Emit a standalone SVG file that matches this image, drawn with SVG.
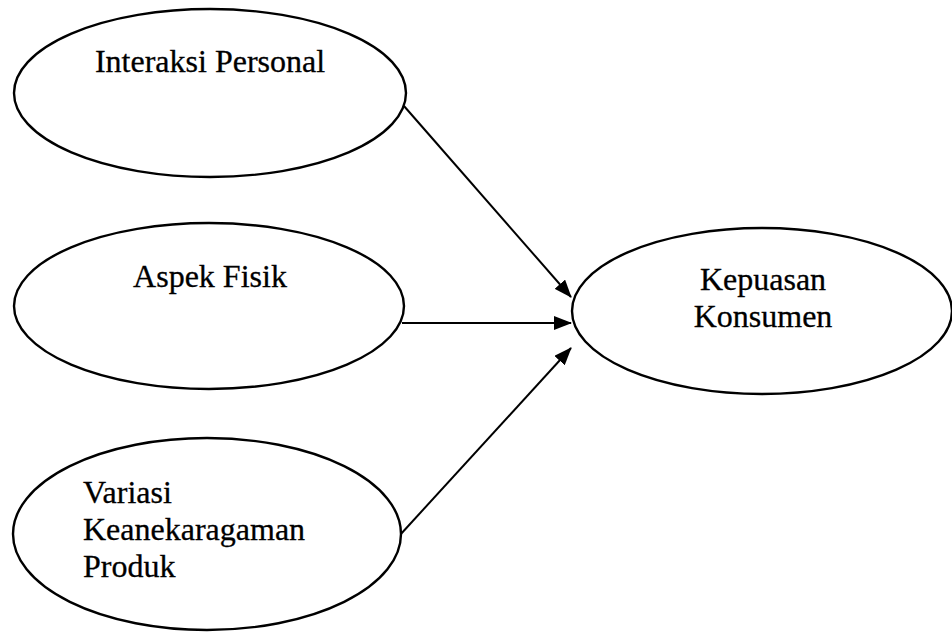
<svg xmlns="http://www.w3.org/2000/svg" width="952" height="633" viewBox="0 0 952 633">
<style>
.node ellipse{fill:#fff;stroke:#000;stroke-width:2.4}
.node text{font-family:"Liberation Serif","Times New Roman",serif;font-size:32px;fill:#000;stroke:#000;stroke-width:0.3}
.conn line{stroke:#000;stroke-width:2}
</style>
<defs>
<marker id="ah" markerUnits="userSpaceOnUse" markerWidth="18" markerHeight="14" refX="17" refY="7" orient="auto">
<path d="M0,0 L18,7 L0,14 Z" fill="#000"/>
</marker>
</defs>
<rect width="952" height="633" fill="#fff"/>
<g class="conn">
<line x1="404" y1="106" x2="571" y2="297" marker-end="url(#ah)"/>
<line x1="402" y1="323" x2="571" y2="323" marker-end="url(#ah)"/>
<line x1="400" y1="535" x2="571" y2="348" marker-end="url(#ah)"/>
</g>
<g class="node" id="interaksi">
<ellipse cx="210" cy="93" rx="196" ry="84"/>
<text x="210" y="72" text-anchor="middle">Interaksi Personal</text>
</g>
<g class="node" id="aspek">
<ellipse cx="209" cy="306" rx="195" ry="83"/>
<text x="210" y="287" text-anchor="middle">Aspek Fisik</text>
</g>
<g class="node" id="variasi">
<ellipse cx="207" cy="534" rx="194" ry="96"/>
<text x="83" y="503">Variasi</text>
<text x="83" y="540">Keanekaragaman</text>
<text x="83" y="577">Produk</text>
</g>
<g class="node" id="kepuasan">
<ellipse cx="762" cy="311" rx="190" ry="83"/>
<text x="763" y="290" text-anchor="middle">Kepuasan</text>
<text x="763" y="327" text-anchor="middle">Konsumen</text>
</g>
</svg>
